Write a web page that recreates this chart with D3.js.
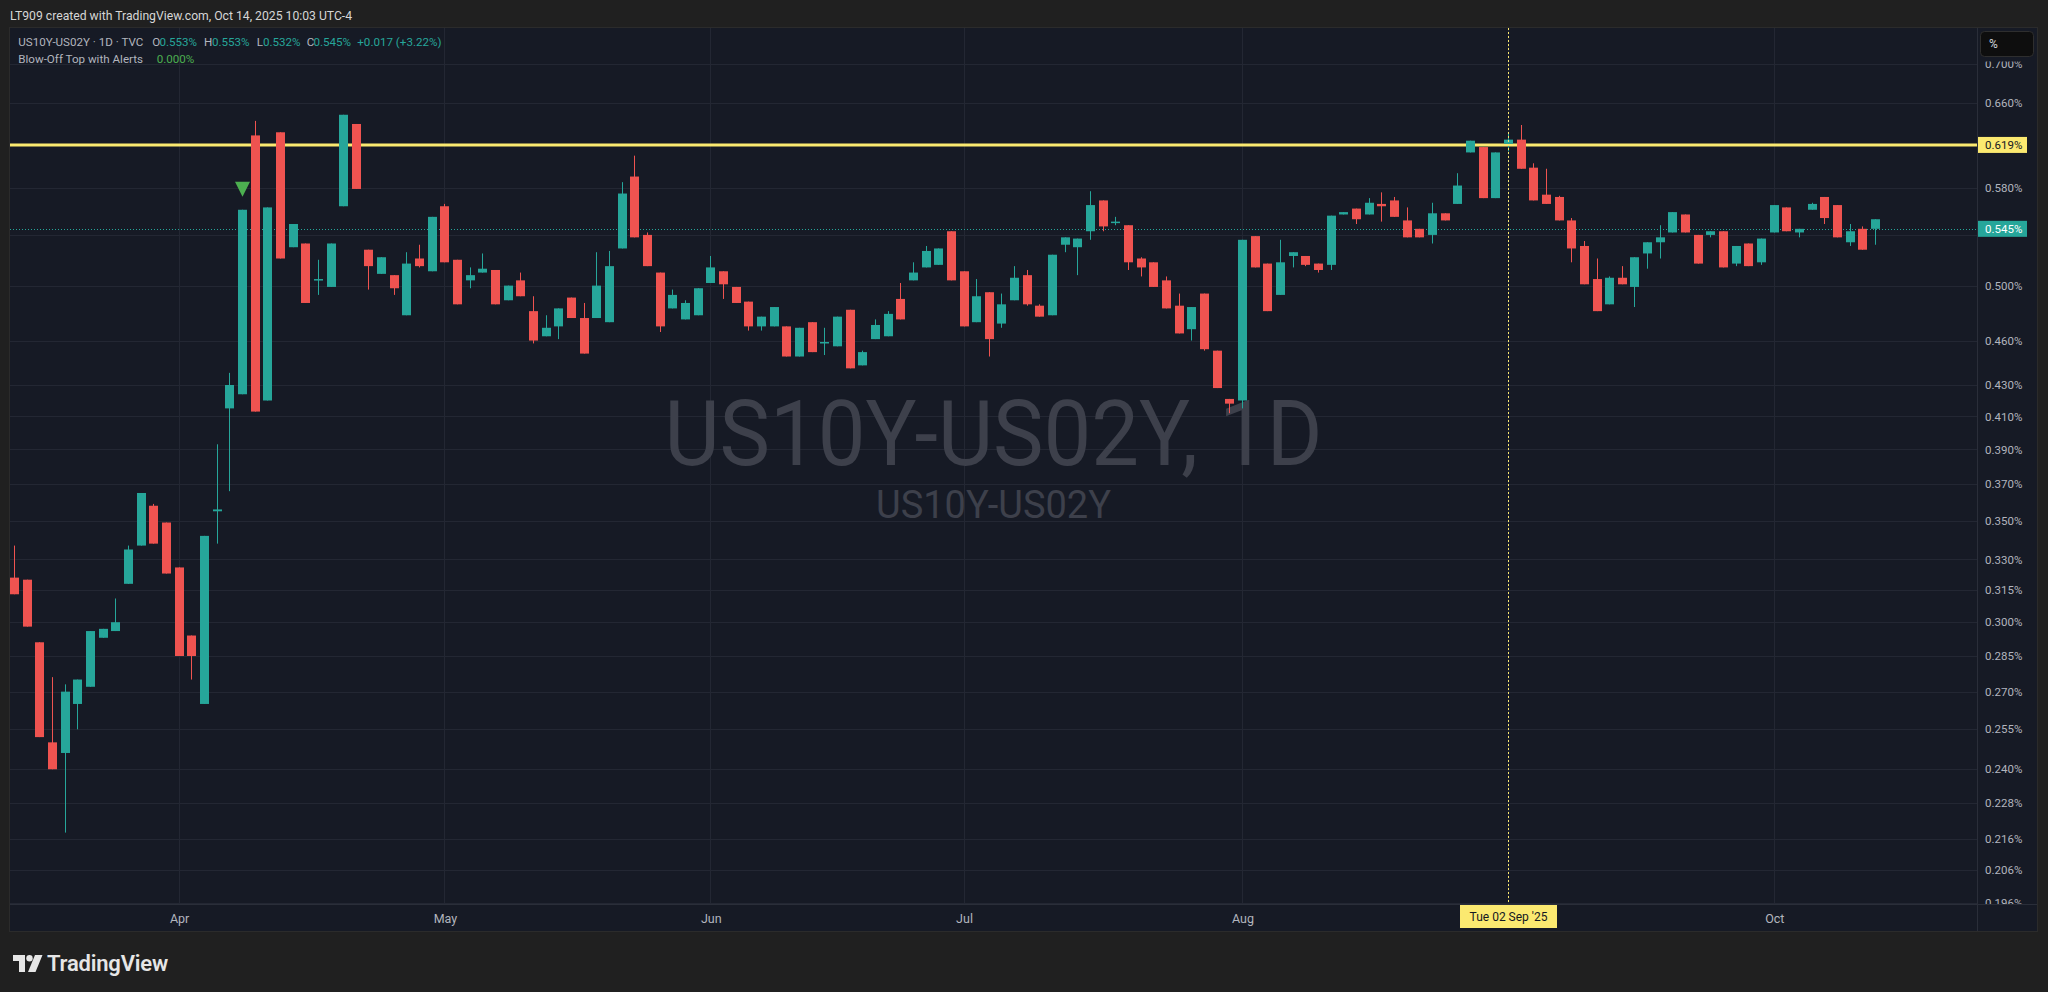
<!DOCTYPE html>
<html><head><meta charset="utf-8">
<script src="https://cdn.jsdelivr.net/npm/d3@7/dist/d3.min.js"></script>
<style>
html,body{margin:0;padding:0;background:#202020;overflow:hidden}
svg{display:block}
text{font-family:Roboto,"Open Sans",sans-serif}
</style></head><body>
<svg id="c" width="2048" height="992"></svg>
<script>
// ---- data ----
const dates = [
"2025-03-13","2025-03-14","2025-03-17","2025-03-18","2025-03-19","2025-03-20","2025-03-21","2025-03-24","2025-03-25","2025-03-26","2025-03-27","2025-03-28","2025-03-31",
"2025-04-01","2025-04-02","2025-04-03","2025-04-04","2025-04-07","2025-04-08","2025-04-09","2025-04-10","2025-04-11","2025-04-14","2025-04-15","2025-04-16","2025-04-17","2025-04-21","2025-04-22","2025-04-23","2025-04-24","2025-04-25","2025-04-28","2025-04-29","2025-04-30",
"2025-05-01","2025-05-02","2025-05-05","2025-05-06","2025-05-07","2025-05-08","2025-05-09","2025-05-12","2025-05-13","2025-05-14","2025-05-15","2025-05-16","2025-05-19","2025-05-20","2025-05-21","2025-05-22","2025-05-23","2025-05-27","2025-05-28","2025-05-29","2025-05-30",
"2025-06-02","2025-06-03","2025-06-04","2025-06-05","2025-06-06","2025-06-09","2025-06-10","2025-06-11","2025-06-12","2025-06-13","2025-06-16","2025-06-17","2025-06-18","2025-06-20","2025-06-23","2025-06-24","2025-06-25","2025-06-26","2025-06-27","2025-06-30",
"2025-07-01","2025-07-02","2025-07-03","2025-07-07","2025-07-08","2025-07-09","2025-07-10","2025-07-11","2025-07-14","2025-07-15","2025-07-16","2025-07-17","2025-07-18","2025-07-21","2025-07-22","2025-07-23","2025-07-24","2025-07-25","2025-07-28","2025-07-29","2025-07-30","2025-07-31",
"2025-08-01","2025-08-04","2025-08-05","2025-08-06","2025-08-07","2025-08-08","2025-08-11","2025-08-12","2025-08-13","2025-08-14","2025-08-15","2025-08-18","2025-08-19","2025-08-20","2025-08-21","2025-08-22","2025-08-25","2025-08-26","2025-08-27","2025-08-28","2025-08-29",
"2025-09-02","2025-09-03","2025-09-04","2025-09-05","2025-09-08","2025-09-09","2025-09-10","2025-09-11","2025-09-12","2025-09-15","2025-09-16","2025-09-17","2025-09-18","2025-09-19","2025-09-22","2025-09-23","2025-09-24","2025-09-25","2025-09-26","2025-09-29","2025-09-30",
"2025-10-01","2025-10-02","2025-10-03","2025-10-06","2025-10-07","2025-10-08","2025-10-09","2025-10-10","2025-10-14"];

const open = [
.321,.320,.291,.250,.246,.265,.272,.293,.296,.318,.337,.358,.349,
.326,.294,.265,.355,.415,.424,.628,.420,.631,.530,.533,.504,.499,.564,.639,.528,.509,.508,.478,.521,.511,
.564,.520,.504,.510,.512,.489,.504,.481,.463,.470,.491,.476,.476,.473,.529,.590,.540,.510,.483,.475,.478,
.502,.511,.499,.488,.470,.470,.470,.449,.473,.458,.456,.482,.443,.461,.463,.490,.504,.514,.516,.543,
.511,.473,.495,.472,.489,.508,.485,.478,.532,.530,.543,.569,.550,.548,.521,.518,.504,.485,.468,.494,.453,.421,
.420,.539,.517,.493,.523,.523,.517,.516,.557,.562,.557,.566,.569,.552,.545,.540,.558,.566,.612,.617,.571,
.620,.624,.598,.574,.572,.552,.531,.505,.486,.506,.499,.525,.534,.542,.557,.540,.540,.543,.517,.533,.518,
.542,.563,.542,.561,.572,.565,.534,.545,.545];
const high = [
.337,.320,.291,.276,.273,.275,.296,.297,.311,.337,.365,.359,.349,
.326,.294,.342,.393,.438,.561,.642,.563,.631,.549,.533,.520,.533,.648,.639,.528,.522,.508,.526,.532,.555,
.566,.520,.514,.525,.512,.500,.510,.492,.478,.483,.491,.487,.526,.527,.585,.609,.542,.510,.497,.489,.498,
.523,.511,.499,.488,.477,.484,.470,.469,.473,.469,.477,.482,.453,.475,.481,.502,.518,.531,.529,.543,
.511,.505,.495,.494,.515,.512,.486,.524,.538,.537,.577,.569,.555,.548,.522,.518,.507,.494,.484,.494,.453,.421,
.536,.539,.517,.536,.526,.523,.517,.556,.559,.562,.571,.576,.572,.563,.545,.567,.558,.593,.623,.617,.612,
.630,.638,.602,.597,.573,.554,.535,.521,.507,.515,.522,.534,.548,.559,.557,.540,.543,.543,.531,.533,.537,
.565,.563,.545,.567,.572,.565,.549,.547,.553];
const low = [
.313,.298,.252,.240,.218,.255,.272,.293,.296,.318,.337,.338,.323,
.285,.275,.265,.338,.366,.424,.413,.420,.521,.530,.487,.493,.499,.564,.579,.497,.509,.493,.478,.514,.511,
.518,.486,.498,.510,.486,.489,.492,.458,.463,.461,.476,.451,.476,.473,.529,.538,.515,.466,.483,.475,.478,
.502,.490,.487,.467,.467,.470,.449,.449,.452,.450,.456,.441,.443,.461,.463,.475,.504,.514,.516,.504,
.470,.473,.449,.469,.489,.485,.477,.478,.526,.508,.536,.543,.548,.512,.507,.499,.483,.465,.460,.453,.428,.412,
.415,.514,.481,.493,.514,.515,.510,.512,.557,.549,.557,.551,.555,.538,.538,.533,.552,.566,.612,.571,.571,
.613,.597,.569,.566,.552,.518,.501,.481,.486,.501,.484,.513,.521,.542,.542,.517,.538,.514,.515,.515,.516,
.542,.543,.538,.561,.549,.538,.531,.528,.532];
const close = [
.313,.298,.252,.240,.270,.275,.296,.297,.300,.335,.365,.338,.323,
.285,.285,.342,.356,.430,.561,.413,.563,.521,.549,.487,.505,.533,.648,.579,.515,.522,.498,.517,.515,.555,
.518,.486,.508,.513,.486,.500,.492,.460,.469,.483,.476,.451,.500,.515,.575,.538,.515,.470,.493,.487,.498,
.514,.501,.487,.470,.477,.484,.449,.469,.452,.459,.477,.441,.452,.471,.479,.475,.510,.527,.529,.504,
.470,.492,.461,.486,.506,.486,.477,.524,.538,.537,.565,.547,.551,.518,.514,.499,.483,.465,.484,.454,.428,.418,
.536,.514,.481,.518,.526,.516,.512,.556,.559,.553,.567,.564,.555,.538,.538,.558,.552,.582,.623,.571,.612,
.624,.597,.569,.566,.552,.529,.501,.481,.506,.501,.522,.534,.538,.559,.542,.517,.543,.514,.531,.515,.537,
.565,.543,.545,.566,.554,.538,.543,.528,.553];

const gridPrices = [0.700,0.660,0.620,0.580,0.540,0.500,0.460,0.430,0.410,0.390,0.370,0.350,0.330,0.315,0.300,0.285,0.270,0.255,0.240,0.228,0.216,0.206,0.196];
const priceTickLabels = [0.700,0.660,0.580,0.500,0.460,0.430,0.410,0.390,0.370,0.350,0.330,0.315,0.300,0.285,0.270,0.255,0.240,0.228,0.216,0.206,0.196];
const monthGridDates = ["2025-04-01","2025-05-01","2025-06-02","2025-07-01","2025-08-01","2025-09-02","2025-10-01"];
const monthTickDates = ["2025-04-01","2025-05-01","2025-06-02","2025-07-01","2025-08-01","2025-10-01"];
const monthTickLabels = ["Apr","May","Jun","Jul","Aug","Oct"];
const resistanceLevel = 0.619;
const lastPrice = 0.545;
const signalDates = ["2025-04-08"];
const crosshairDate = "2025-09-02";
const crosshairLabel = "Tue 02 Sep '25";

// ---- layout ----
const W = 2048, H = 992;
const L = 10, T = 28, R = 1977, B = 904, AR = 2037, AB = 931;
const barSpacing = 12.66, firstBarX = 14.5, bodyW = 9;
const UP = "#26a69a", DOWN = "#ef5350", GRID = "#232733", SEP = "#2a2e39";
const YEL = "#fbe970";

const svg = d3.select("#c");
const defs = svg.append("defs");
svg.append("rect").attr("width", W).attr("height", H).attr("fill", "#202020");

// header
svg.append("text").attr("x", 10).attr("y", 19.5).attr("fill", "#d6d6d6").attr("font-size", 12.2)
  .text("LT909 created with TradingView.com, Oct 14, 2025 10:03 UTC-4");

// panel
svg.append("rect").attr("x", L - 0.5).attr("y", T - 0.5).attr("width", AR - L + 1).attr("height", AB - T + 1)
  .attr("fill", "#161a25").attr("stroke", "#2b2b2b");

const x = d3.scalePoint().domain(dates).range([firstBarX, firstBarX + (dates.length - 1) * barSpacing]);
const y = d3.scaleLog().domain([0.7, 0.196]).range([63.9, 902.7]);
const cx = d => Math.round(x(d) - 0.5) + 0.5;

defs.append("clipPath").attr("id", "plot")
  .append("rect").attr("x", L).attr("y", T).attr("width", R - L).attr("height", B - T);
const plot = svg.append("g").attr("clip-path", "url(#plot)");

// grid
plot.append("g").selectAll("line").data(gridPrices).join("line")
  .attr("x1", L).attr("x2", R).attr("y1", d => Math.round(y(d)) + 0.5).attr("y2", d => Math.round(y(d)) + 0.5)
  .attr("stroke", GRID).attr("stroke-width", 1);
plot.append("g").selectAll("line").data(monthGridDates).join("line")
  .attr("x1", d => cx(d)).attr("x2", d => cx(d)).attr("y1", T).attr("y2", B)
  .attr("stroke", GRID).attr("stroke-width", 1);

// watermark
const midX = (L + R) / 2;
plot.append("text").attr("x", midX).attr("y", 465).attr("text-anchor", "middle")
  .attr("font-size", 90).attr("fill", "#3d404b").attr("textLength", 658).attr("lengthAdjust", "spacingAndGlyphs")
  .text("US10Y-US02Y, 1D");
plot.append("text").attr("x", midX).attr("y", 518).attr("text-anchor", "middle")
  .attr("font-size", 38).attr("fill", "#3d404b").text("US10Y-US02Y");

// resistance line
plot.append("line").attr("x1", L).attr("x2", R).attr("y1", y(resistanceLevel)).attr("y2", y(resistanceLevel))
  .attr("stroke", YEL).attr("stroke-width", 3);

// last price dotted line
plot.append("line").attr("x1", L).attr("x2", R).attr("y1", Math.round(y(lastPrice)) + 0.5).attr("y2", Math.round(y(lastPrice)) + 0.5)
  .attr("stroke", UP).attr("stroke-width", 1).attr("stroke-dasharray", "1 2");

// candles
const bars = dates.map((d, i) => ({ d, o: open[i], h: high[i], l: low[i], c: close[i] }));
const g = plot.append("g").selectAll("g").data(bars).join("g");
g.append("line")
  .attr("x1", b => cx(b.d)).attr("x2", b => cx(b.d))
  .attr("y1", b => y(b.h)).attr("y2", b => y(b.l))
  .attr("stroke", b => b.c >= b.o ? UP : DOWN).attr("stroke-width", 1);
g.append("rect")
  .attr("x", b => cx(b.d) - bodyW / 2)
  .attr("width", bodyW)
  .attr("y", b => y(Math.max(b.o, b.c)))
  .attr("height", b => Math.max(1.5, y(Math.min(b.o, b.c)) - y(Math.max(b.o, b.c))))
  .attr("fill", b => b.c >= b.o ? UP : DOWN);

// blow-off top signal
plot.append("g").selectAll("path").data(signalDates).join("path")
  .attr("d", d => {
    const i = dates.indexOf(d), px = cx(d), top = y(high[i]) - 28;
    return `M${px - 7.5},${top}L${px + 7.5},${top}L${px},${top + 15}Z`;
  }).attr("fill", "#4caf50");

// crosshair
plot.append("line").attr("x1", cx(crosshairDate)).attr("x2", cx(crosshairDate)).attr("y1", T).attr("y2", B)
  .attr("stroke", YEL).attr("stroke-width", 1).attr("stroke-dasharray", "2 2");

// separators
svg.append("line").attr("x1", R + 0.5).attr("x2", R + 0.5).attr("y1", T).attr("y2", AB).attr("stroke", SEP);
svg.append("line").attr("x1", L).attr("x2", AR).attr("y1", B + 0.5).attr("y2", B + 0.5).attr("stroke", SEP);

// price axis (clip in the group's own coordinates)
defs.append("clipPath").attr("id", "pax")
  .append("rect").attr("x", 0).attr("y", 61.5).attr("width", AR - R).attr("height", B - 61.5);
const yAxis = d3.axisRight(y).tickValues(priceTickLabels).tickFormat(d => d.toFixed(3) + "%").tickSize(0).tickPadding(8);
const ya = svg.append("g").attr("transform", `translate(${R},0)`).call(yAxis);
ya.attr("clip-path", "url(#pax)");
ya.select(".domain").remove();
ya.selectAll("text").attr("fill", "#b2b5be").attr("font-size", 11.5).attr("font-family", "Roboto");

// price labels
function priceLabel(v, bg, fg) {
  const yy = y(v);
  svg.append("rect").attr("x", R + 1).attr("y", yy - 8).attr("width", 49).attr("height", 16).attr("fill", bg);
  svg.append("text").attr("x", R + 8).attr("y", yy + 4).attr("fill", fg).attr("font-size", 11.5).text(v.toFixed(3) + "%");
}
priceLabel(resistanceLevel, YEL, "#131722");
priceLabel(lastPrice, UP, "#ffffff");

// % box
svg.append("rect").attr("x", 1980.5).attr("y", 31.5).attr("width", 53).attr("height", 25).attr("rx", 4)
  .attr("fill", "#0e0e0e").attr("stroke", "#2e2e2e");
svg.append("text").attr("x", 1989).attr("y", 48).attr("fill", "#d1d4dc").attr("font-size", 12).text("%");

// time axis
const xAxis = d3.axisBottom(x).tickValues(monthTickDates).tickFormat((d, i) => monthTickLabels[i]).tickSize(0).tickPadding(10);
const xa = svg.append("g").attr("transform", `translate(0,${B})`).call(xAxis);
xa.select(".domain").remove();
xa.selectAll("text").attr("fill", "#b2b5be").attr("font-size", 12.5).attr("font-family", "Roboto");

// crosshair label
const chx = cx(crosshairDate);
svg.append("rect").attr("x", chx - 48.5).attr("y", B + 1).attr("width", 97).attr("height", 23).attr("fill", YEL);
svg.append("text").attr("x", chx).attr("y", B + 17).attr("text-anchor", "middle").attr("fill", "#131722")
  .attr("font-size", 12).text(crosshairLabel);

// legend
const lg = svg.append("g").attr("font-size", 11.6);
function seg(xp, yp, t, col) { lg.append("text").attr("x", xp).attr("y", yp).attr("fill", col).text(t); }
const GR = "#b2b5be";
seg(18.3, 46, "US10Y-US02Y · 1D · TVC", GR);
seg(152.3, 46, "O", GR); seg(159.5, 46, "0.553%", UP);
seg(204, 46, "H", GR); seg(212, 46, "0.553%", UP);
seg(256.7, 46, "L", GR); seg(263, 46, "0.532%", UP);
seg(306.7, 46, "C", GR); seg(313.5, 46, "0.545%", UP);
seg(357.3, 46, "+0.017 (+3.22%)", UP);
seg(18.3, 63, "Blow-Off Top with Alerts", GR);
seg(156.7, 63, "0.000%", "#4caf50");

// TradingView logo
const logo = svg.append("g").attr("fill", "#e6e6e6");
logo.append("path").attr("d", "M13,955h12v17h-6v-11h-6z");
logo.append("circle").attr("cx", 29.5).attr("cy", 958.2).attr("r", 3.2);
logo.append("path").attr("d", "M35,955h7.5l-7,17h-7.5z");
logo.append("text").attr("x", 47).attr("y", 971).attr("font-size", 22).attr("font-weight", 600)
  .attr("fill", "#e6e6e6").attr("letter-spacing", -0.2).text("TradingView");
</script>
</body></html>
